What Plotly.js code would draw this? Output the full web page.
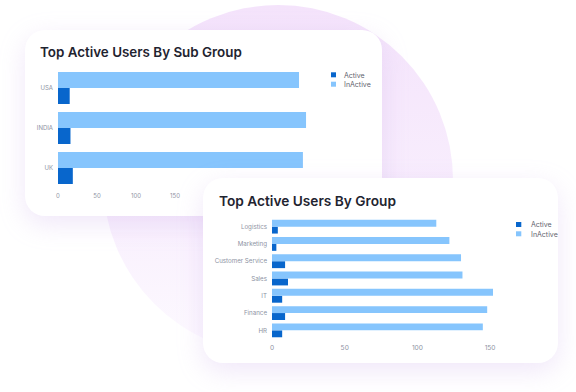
<!DOCTYPE html>
<html>
<head>
<meta charset="utf-8">
<script src="https://cdn.plot.ly/plotly-3.0.1.min.js"></script>
<style>
  html, body { margin:0; padding:0; background:#ffffff; }
  body { width:576px; height:392px; position:relative; overflow:hidden; }
  #circle { position:absolute; left:103px; top:5px; width:350px; height:350px; border-radius:50%;
    background: linear-gradient(to bottom, #f4e3fb 0%, #f8eefd 55%, #fdfaff 100%); }
  .card { position:absolute; background:#ffffff; border-radius:20px;
    box-shadow: 0 8px 26px rgba(200,170,235,0.28); }
  #card1 { left:25px; top:30px; width:357px; height:186px; }
  #card2 { left:203px; top:178px; width:355px; height:185px; }
</style>
</head>
<body>
<div id="circle"></div>
<div class="card" id="card1"><div id="chart1"></div></div>
<div class="card" id="card2"><div id="chart2"></div></div>
<script>
// ---- data ----
const subGroupCategories = ['UK', 'INDIA', 'USA'];            // bottom to top
const subGroupActive     = [19, 16, 15];
const subGroupInactive   = [314, 318, 309];

const groupCategories = ['HR', 'Finance', 'IT', 'Sales', 'Customer Service', 'Marketing', 'Logistics']; // bottom to top
const groupActive     = [7, 9, 7, 11, 9, 3, 4];
const groupInactive   = [145, 148, 152, 131, 130, 122, 113];

const seriesNames = ['Active', 'InActive'];
const xTicks = [0, 50, 100, 150];

// ---- style ----
const ACTIVE = '#0866cc';
const INACTIVE = '#86c5fd';
const TICK_COLOR = '#8e93a3';
const FONT = 'Inter, "Noto Sans", sans-serif';

function buildLegend(box, items) {
  const px = x => (x - box.l) / box.w;
  const py = y => 1 - (y - box.t) / box.h;
  const shapes = [], annotations = [];
  items.forEach(it => {
    shapes.push({type:'rect', xref:'paper', yref:'paper', x0:px(it.sx0), x1:px(it.sx1), y0:py(it.sy1), y1:py(it.sy0),
      fillcolor:it.color, line:{width:0}});
    annotations.push({xref:'paper', yref:'paper', x:px(it.tx), y:py(it.ty), xanchor:'left', yanchor:'middle',
      text:it.name, showarrow:false, font:{family:FONT, size:7, color:'#5f636e'}});
  });
  return {shapes, annotations};
}

// ---- chart 1 ----
(function(){
  const W = 357, H = 186;
  const m = {l:33, r:63, t:38, b:28};
  const box = {l:m.l, t:m.t, w:W-m.l-m.r, h:H-m.t-m.b};
  const traces = [
    {type:'bar', orientation:'h', name:seriesNames[0], y:subGroupCategories, x:subGroupActive, marker:{color:ACTIVE}},
    {type:'bar', orientation:'h', name:seriesNames[1], y:subGroupCategories, x:subGroupInactive, marker:{color:INACTIVE}}
  ];
  const lg = buildLegend(box, [
    {name:seriesNames[0], color:ACTIVE,   sx0:306, sx1:311, sy0:42.3, sy1:47.3, tx:317, ty:45},
    {name:seriesNames[1], color:INACTIVE, sx0:306, sx1:311, sy0:51.7, sy1:56.7, tx:317, ty:54.3}
  ]);
  lg.annotations.push({xref:'paper', yref:'paper', x:(12.5 - box.l)/box.w, y:1 - (21.7 - box.t)/box.h,
    xanchor:'left', yanchor:'middle', showarrow:false, text:'Top Active Users By Sub Group',
    font:{family:FONT, size:13.4, color:'#1f2430', weight:600}});
  const layout = {
    width:W, height:H, margin:m, barmode:'group', bargap:0.2, bargroupgap:0,
    paper_bgcolor:'rgba(0,0,0,0)', plot_bgcolor:'rgba(0,0,0,0)', showlegend:false,
    xaxis:{range:[0, box.w/0.78], tickvals:xTicks, showgrid:false, zeroline:false, showline:false, ticks:'',
      ticklabelstandoff:3, tickfont:{family:FONT, size:6, color:TICK_COLOR}, fixedrange:true},
    yaxis:{type:'category', categoryorder:'array', categoryarray:subGroupCategories, showgrid:false, zeroline:false,
      showline:false, ticks:'', ticklabelstandoff:4, tickfont:{family:FONT, size:6, color:TICK_COLOR}, fixedrange:true},
    shapes:lg.shapes, annotations:lg.annotations
  };
  Plotly.newPlot('chart1', traces, layout, {staticPlot:true, displayModeBar:false});
})();

// ---- chart 2 ----
(function(){
  const W = 355, H = 185;
  const m = {l:69, r:53, t:40, b:24};
  const box = {l:m.l, t:m.t, w:W-m.l-m.r, h:H-m.t-m.b};
  const traces = [
    {type:'bar', orientation:'h', name:seriesNames[0], y:groupCategories, x:groupActive, marker:{color:ACTIVE}},
    {type:'bar', orientation:'h', name:seriesNames[1], y:groupCategories, x:groupInactive, marker:{color:INACTIVE}}
  ];
  const lg = buildLegend(box, [
    {name:seriesNames[0], color:ACTIVE,   sx0:313, sx1:318.3, sy0:44, sy1:49, tx:325.5, ty:46.3},
    {name:seriesNames[1], color:INACTIVE, sx0:313, sx1:318.3, sy0:53.3, sy1:58.3, tx:325.5, ty:56}
  ]);
  lg.annotations.push({xref:'paper', yref:'paper', x:(13.5 - box.l)/box.w, y:1 - (23 - box.t)/box.h,
    xanchor:'left', yanchor:'middle', showarrow:false, text:'Top Active Users By Group',
    font:{family:FONT, size:13.7, color:'#1f2430', weight:600}});
  const layout = {
    width:W, height:H, margin:m, barmode:'group', bargap:0.2, bargroupgap:0,
    paper_bgcolor:'rgba(0,0,0,0)', plot_bgcolor:'rgba(0,0,0,0)', showlegend:false,
    xaxis:{range:[0, box.w/1.454], tickvals:xTicks, showgrid:false, zeroline:false, showline:false, ticks:'',
      ticklabelstandoff:3, tickfont:{family:FONT, size:6.6, color:TICK_COLOR}, fixedrange:true},
    yaxis:{type:'category', categoryorder:'array', categoryarray:groupCategories, showgrid:false, zeroline:false,
      showline:false, ticks:'', ticklabelstandoff:4, tickfont:{family:FONT, size:6.2, color:TICK_COLOR}, fixedrange:true},
    shapes:lg.shapes, annotations:lg.annotations
  };
  Plotly.newPlot('chart2', traces, layout, {staticPlot:true, displayModeBar:false});
})();
</script>
</body>
</html>
